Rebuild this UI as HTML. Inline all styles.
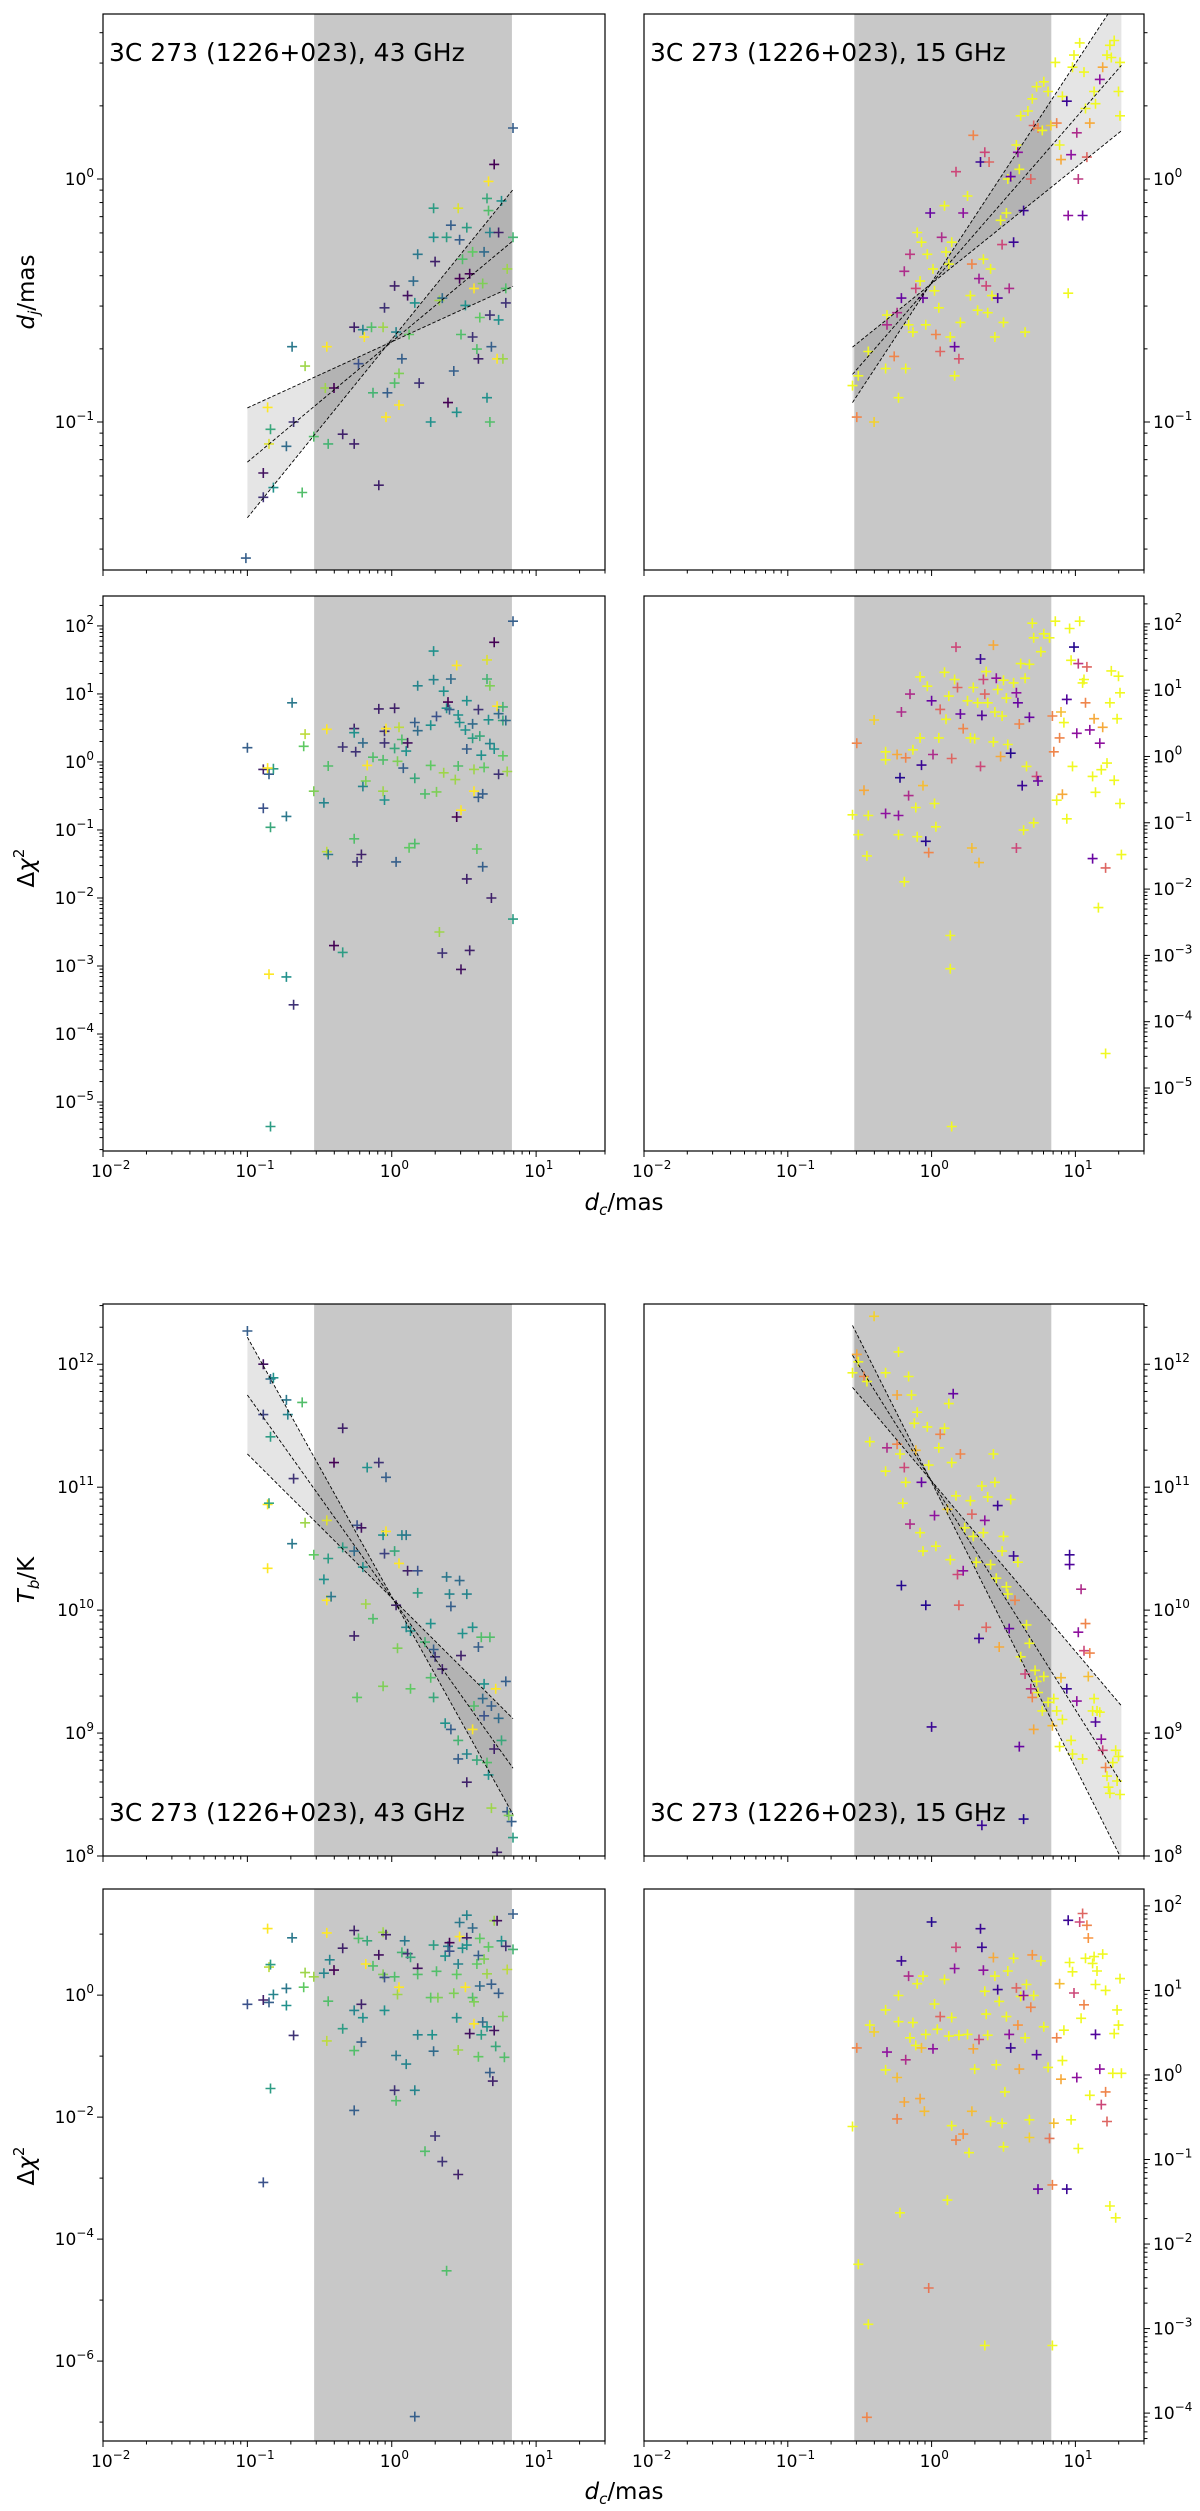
<!DOCTYPE html>
<html><head><meta charset="utf-8"><style>
html,body{margin:0;padding:0;background:#fff;}
svg{display:block;font-family:"DejaVu Sans","Liberation Sans",sans-serif;}
</style></head><body>
<svg id="fig" xmlns="http://www.w3.org/2000/svg" width="1200" height="2511" viewBox="0 0 1200 2511"></svg>
<script>
// ---------- DATA (log10 values) ----------
// Panel A: 43 GHz, d_j vs d_c
const aDcLog=[-1.01,-0.89,-0.89,-0.82,-0.84,-0.86,-0.85,-0.73,-0.68,-0.69,-0.60,-0.62,-0.54,-0.45,-0.46,-0.44,-0.40,-0.34,-0.26,-0.26,-0.23,-0.20,-0.19,-0.14,-0.13,-0.09,-0.06,-0.05,-0.04,-0.03,0.02,0.02,0.03,0.05,0.05,0.07,0.11,0.12,0.15,0.16,0.18,0.19,0.27,0.29,0.29,0.30,0.33,0.35,0.38,0.39,0.41,0.43,0.45,0.46,0.47,0.48,0.47,0.49,0.51,0.52,0.54,0.56,0.56,0.57,0.59,0.60,0.61,0.63,0.64,0.66,0.67,0.66,0.68,0.68,0.68,0.69,0.71,0.73,0.74,0.74,0.77,0.76,0.79,0.79,0.80,0.84,0.84,0.67];
const aDjLog=[-1.56,-1.21,-1.31,-1.27,-1.03,-0.94,-1.09,-1.10,-1.00,-0.69,-0.77,-1.29,-1.06,-0.69,-0.86,-1.09,-0.86,-1.05,-1.09,-0.61,-0.76,-0.62,-0.65,-0.61,-0.88,-1.26,-0.61,-0.53,-0.98,-0.88,-0.44,-0.84,-0.63,-0.93,-0.80,-0.74,-0.48,-0.64,-0.42,-0.51,-0.31,-0.84,-1.00,-0.12,-0.24,-0.34,-0.50,-0.49,-0.24,-0.92,-0.19,-0.79,-0.96,-0.12,-0.25,-0.64,-0.41,-0.33,-0.52,-0.20,-0.39,-0.30,-0.65,-0.45,-0.70,-0.74,-0.57,-0.43,-0.30,-0.90,-0.13,-0.08,-1.00,-0.22,-0.56,-0.69,0.06,-0.74,-0.22,-0.58,-0.74,-0.09,-0.51,-0.45,-0.37,-0.24,0.21,-0.01];
const aEpoch=[.3,.05,.15,.5,.6,1,.95,.35,.15,.4,.85,.7,.7,1,.85,.65,0,.1,.1,.1,.25,.45,1,.7,.65,.1,.85,.15,1,.3,.1,.7,.45,1,.8,.3,.05,.75,.35,.5,.4,.15,.5,.55,.5,.1,.85,.35,.55,0,.3,.3,.5,.95,.3,.7,0,.7,.5,.55,0,.75,.15,1,.7,.1,.75,.8,.35,.5,.7,.6,.7,.45,.15,.3,0,1,.1,.5,.85,.5,.15,.7,.85,.65,.3,1];
const aFitSlope=[0.734,0.495,0.272];
const aFitIntercept=[-0.66,-0.67,-0.67];
const aFitRange=[-1.0,0.84];

// Panel B: 43 GHz, delta chi^2 vs d_c
const bDcLog=[-1.0,-0.89,-0.85,-0.82,-0.86,-0.89,-0.73,-0.84,-0.69,-0.61,-0.60,-0.54,-0.47,-0.45,-0.44,-0.45,-0.44,-0.34,-0.26,-0.26,-0.25,-0.20,-0.20,-0.26,-0.24,-0.21,-0.17,-0.18,-0.13,-0.09,-0.06,-0.05,-0.05,-0.04,-0.05,-0.06,0.02,0.02,0.03,0.04,0.05,0.07,0.08,0.10,0.11,0.12,0.16,0.16,0.18,0.18,0.16,0.23,0.27,0.27,0.29,0.29,0.31,0.31,0.33,0.36,0.35,0.36,0.38,0.39,0.40,0.41,0.44,0.45,0.45,0.46,0.46,0.47,0.48,0.48,0.51,0.52,0.52,0.52,0.54,0.56,0.56,0.57,0.57,0.59,0.60,0.60,0.61,0.62,0.63,0.63,0.64,0.66,0.66,0.67,0.68,0.68,0.69,0.71,0.71,0.74,0.73,0.74,0.77,0.77,0.77,0.80,0.79,0.84,0.84,-0.68,-0.73,-0.85,-0.84,-0.40,-0.34];
const bChiLog=[0.21,-0.11,-0.18,-0.10,-0.09,-0.68,-0.80,-0.96,0.87,0.23,0.41,-0.43,-0.60,0.48,-0.06,-1.32,-1.36,0.22,0.49,0.43,0.15,0.28,-0.36,-1.13,-1.47,-1.36,-0.05,-0.28,0.07,0.78,0.03,0.45,0.28,0.49,-0.56,-0.43,0.79,0.20,-1.47,0.01,0.51,0.33,-0.09,0.16,0.28,-1.26,0.58,-0.24,1.12,0.46,-1.20,-0.47,-0.05,0.54,1.63,1.21,0.67,-0.44,-2.50,1.04,-2.81,-0.16,0.79,0.88,0.77,1.22,-0.26,1.42,-0.81,-0.06,0.69,0.58,-0.71,-3.05,0.47,0.19,0.90,-1.72,-2.77,0.56,0.35,-0.43,-0.11,-1.28,0.77,-0.52,0.38,0.10,-1.54,-0.47,-0.08,1.50,1.22,0.62,1.12,0.27,-2.0,0.19,1.76,-0.18,0.82,0.71,0.61,0.09,0.81,-0.14,0.61,-2.31,2.07,-3.57,-3.16,-3.12,-5.36,-2.70,-2.80];
const bEpoch=[.3,.1,.3,.55,1,.25,.4,.6,.4,.75,.9,.8,.45,1,.7,.9,.4,.15,.1,.5,.15,.35,.45,.7,.15,.1,1,.8,.7,.1,.7,.15,.15,1,.5,.85,.1,.6,.3,.8,.9,.7,.3,.5,.05,.75,.3,.6,.45,.35,.7,.7,.75,.5,.5,.45,.25,.8,.85,.5,.15,.85,.5,0,.3,.35,.85,1,0,.7,.5,.5,1,.05,.5,.3,.5,.1,.1,.35,.55,1,.85,.75,.15,.3,.6,.5,.3,.3,.75,.95,.65,.5,.8,.45,.1,.5,0,.15,1,.35,.6,.75,.65,.85,.35,.55,.3,.15,.5,1,.55,0,.55];

// Panel C: 15 GHz, d_j vs d_c
const cDcLog=[-0.55,-0.52,-0.51,-0.44,-0.40,-0.32,-0.31,-0.31,-0.26,-0.24,-0.23,-0.21,-0.19,-0.18,-0.16,-0.15,-0.13,-0.11,-0.10,-0.08,-0.07,-0.06,-0.04,-0.03,-0.01,0.01,0.02,0.03,0.05,0.06,0.07,0.09,0.10,0.12,0.13,0.14,0.16,0.16,0.17,0.19,0.20,0.22,0.25,0.27,0.28,0.29,0.32,0.33,0.34,0.36,0.37,0.38,0.39,0.40,0.41,0.42,0.44,0.46,0.48,0.49,0.50,0.52,0.53,0.54,0.55,0.57,0.59,0.60,0.61,0.62,0.64,0.65,0.67,0.69,0.70,0.71,0.73,0.74,0.77,0.78,0.81,0.83,0.86,0.87,0.89,0.90,0.91,0.94,0.95,0.95,0.97,0.98,0.99,1.01,1.02,1.03,1.05,1.06,1.07,1.08,1.10,1.13,1.14,1.17,1.19,1.22,1.24,1.25,1.27,1.30,1.31,1.31];
const cDjLog=[-0.85,-0.98,-0.81,-0.71,-1.00,-0.78,-0.56,-0.60,-0.73,-0.55,-0.90,-0.49,-0.38,-0.78,-0.60,-0.31,-0.63,-0.45,-0.22,-0.42,-0.26,-0.49,-0.60,-0.31,-0.14,-0.37,-0.46,-0.64,-0.53,-0.71,-0.24,-0.11,-0.30,-0.35,-0.65,-0.26,-0.69,-0.81,0.03,-0.74,-0.59,-0.14,-0.07,-0.48,-0.35,0.18,-0.54,-0.41,0.07,-0.33,0.11,-0.44,-0.55,0.07,-0.37,-0.48,-0.65,-0.49,-0.17,-0.27,-0.59,-0.14,0.0,-0.45,0.01,-0.26,0.14,0.11,0.04,0.26,-0.13,-0.63,0.28,0.0,0.33,0.22,0.38,0.21,0.20,0.40,0.36,0.22,0.48,0.23,0.14,0.08,0.34,0.32,-0.15,-0.47,0.10,0.46,0.51,0.19,0.0,0.56,-0.15,0.44,0.29,0.09,0.23,0.36,0.31,0.41,0.46,0.51,0.55,0.50,0.57,0.36,0.26,0.48];
const cEpoch=[1,.7,1,1,.9,1,1,.4,.7,.4,1,.2,.4,1,1,.45,1,.5,1,1,1,.2,1,1,.2,1,1,.7,1,.6,.4,1,1,1,1,1,.2,1,.5,.55,1,.3,1,1,.7,.7,1,.35,.1,1,.5,.5,1,.6,1,1,1,.15,1,.5,1,1,1,.4,.2,.1,1,.3,1,1,.1,1,1,.6,1,.6,1,.7,1,1,1,.9,1,.7,1,.8,1,.1,.3,1,.3,1,1,.4,.45,1,.2,1,1,.6,.8,1,1,.3,.8,1,1,1,1,1,1,1];
const cFitSlope=[0.90,0.68,0.476];
const cFitIntercept=[-0.425,-0.43,-0.43];
const cFitRange=[-0.55,1.32];

// Panel D: 15 GHz, delta chi^2 vs d_c
const dDcLog=[-0.55,-0.52,-0.51,-0.47,-0.45,-0.44,-0.40,-0.32,-0.32,-0.32,-0.24,-0.23,-0.23,-0.22,-0.21,-0.19,-0.18,-0.16,-0.15,-0.13,-0.11,-0.10,-0.08,-0.08,-0.07,-0.06,-0.04,-0.03,-0.02,0.0,0.01,0.02,0.03,0.05,0.06,0.09,0.10,0.12,0.13,0.13,0.14,0.14,0.16,0.17,0.18,0.20,0.22,0.25,0.27,0.28,0.29,0.30,0.32,0.33,0.34,0.34,0.35,0.36,0.37,0.38,0.39,0.43,0.43,0.44,0.45,0.46,0.48,0.49,0.50,0.52,0.53,0.55,0.57,0.59,0.59,0.60,0.61,0.62,0.63,0.64,0.65,0.66,0.68,0.68,0.70,0.71,0.71,0.73,0.74,0.76,0.78,0.82,0.84,0.85,0.86,0.87,0.89,0.90,0.91,0.92,0.94,0.94,0.96,0.97,0.98,0.99,1.01,1.02,1.03,1.05,1.06,1.07,1.08,1.10,1.12,1.12,1.13,1.14,1.16,1.17,1.18,1.19,1.21,1.21,1.22,1.24,1.25,1.27,1.29,1.30,1.31,1.31,1.32];
const dChiLog=[-0.88,0.20,-1.18,-0.51,-1.50,-0.89,0.55,0.07,-0.86,-0.05,0.03,-0.89,-1.18,-0.32,0.67,-1.89,-0.02,-0.59,0.94,0.10,-0.77,-1.21,1.20,0.28,-0.13,-0.44,-1.28,1.06,-1.45,0.84,0.03,-0.71,-1.06,0.28,0.71,1.27,0.56,0.91,-2.70,-3.20,-5.58,-0.03,1.16,1.65,1.04,0.64,0.42,0.84,0.28,-1.38,1.04,0.27,0.81,-1.60,1.47,-0.15,0.62,1.16,0.94,1.28,0.81,1.68,0.22,0.67,1.18,1.01,0.0,0.61,1.15,0.88,0.18,0.05,1.11,0.96,-1.38,0.81,0.49,1.40,-0.44,-1.11,1.18,-0.15,0.59,1.39,2.01,1.79,-1.0,-0.30,-0.37,1.58,1.85,1.79,0.61,0.07,2.04,-0.66,0.28,0.67,-0.57,0.51,-0.94,0.86,1.93,1.45,-0.15,1.65,0.35,1.40,2.04,1.11,1.16,0.81,1.35,0.40,-0.30,-1.54,0.57,-0.54,-2.28,0.20,-0.20,0.44,-1.68,-4.48,-0.10,0.81,1.29,-0.36,0.57,1.21,0.96,-0.71,-1.48];
const dEpoch=[1,.7,1,.8,1,1,.9,1,.3,1,.8,.3,1,.05,.4,1,.7,.4,.4,1,1,1,1,1,.1,.85,.05,1,.7,.2,.4,1,1,1,.6,1,1,1,1,1,1,.6,1,.5,.6,.2,.7,1,1,.85,1,1,1,.85,.1,.5,.15,.5,.6,1,1,.8,1,1,.3,1,.8,1,1,1,1,.05,1,.3,.5,.2,.7,1,.1,1,1,1,.2,1,1,1,1,.5,.2,1,1,1,.7,.7,1,1,.7,.85,.8,1,1,.15,1,1,1,.05,.3,.45,1,1,1,.7,.6,.3,1,.2,.8,1,1,.3,1,.8,.6,1,1,1,1,1,1,1,1,1,1];

// Panel E: 43 GHz, Tb vs d_c
const eDcLog=[-1.0,-0.89,-0.89,-0.84,-0.82,-0.84,-0.86,-0.85,-0.86,-0.73,-0.72,-0.69,-0.68,-0.62,-0.60,-0.54,-0.47,-0.45,-0.45,-0.44,-0.42,-0.40,-0.34,-0.34,-0.26,-0.26,-0.24,-0.24,-0.21,-0.20,-0.18,-0.17,-0.13,-0.09,-0.06,-0.05,-0.04,-0.04,-0.06,0.02,0.03,0.04,0.05,0.07,0.10,0.10,0.13,0.13,0.11,0.18,0.18,0.23,0.27,0.27,0.29,0.29,0.30,0.35,0.37,0.38,0.40,0.41,0.41,0.46,0.46,0.47,0.48,0.49,0.52,0.52,0.52,0.56,0.56,0.57,0.59,0.60,0.62,0.63,0.64,0.64,0.66,0.67,0.68,0.69,0.71,0.72,0.73,0.74,0.76,0.79,0.80,0.81,0.83,0.84,0.69];
const eTbLog=[12.27,12.0,11.59,11.88,11.89,11.41,10.86,10.87,10.34,11.71,11.59,10.54,11.07,11.69,10.71,10.45,10.25,10.08,10.73,10.42,10.11,11.20,11.48,10.51,9.79,10.48,10.69,9.29,10.67,10.35,10.05,11.16,9.93,11.20,10.61,10.46,11.08,10.64,9.38,10.48,10.04,9.69,10.38,10.61,10.61,9.86,9.83,9.36,10.32,10.32,10.14,9.74,9.89,9.45,9.68,9.29,9.62,9.52,9.08,10.27,10.13,10.03,9.03,8.94,8.79,10.24,9.63,9.81,8.60,8.83,10.13,9.86,9.03,9.22,8.78,9.70,9.78,9.28,9.14,9.40,8.76,8.66,9.78,9.22,8.87,9.36,8.03,9.12,8.94,9.42,8.36,8.33,8.28,8.15,8.39];
const eEpoch=[.3,.05,.2,.35,.5,.55,1,.6,1,.4,.45,.4,.15,.7,.85,.75,.5,1,.95,.55,.4,0,.1,.55,.1,.35,.25,.75,.05,.5,.85,.5,.7,.15,.5,.2,.3,1,.8,.6,.1,.8,1,.45,.4,.45,.5,.75,.1,.25,.55,.65,.5,.7,.3,.6,.15,.1,.5,.4,.45,.3,.3,.65,.3,.35,.1,.5,.1,.45,.45,.5,1,.7,.6,.3,.7,.35,.25,.5,.7,.5,.7,.3,.1,1,.1,.35,.6,.3,.3,.8,.3,.55,.85];
const eFitSlope=[-2.11,-1.65,-1.17];
const eFitIntercept=[10.11,10.10,10.10];
const eFitRange=[-1.0,0.84];

// Panel F: 15 GHz, Tb vs d_c
const fDcLog=[-0.55,-0.52,-0.51,-0.47,-0.45,-0.43,-0.40,-0.32,-0.32,-0.31,-0.24,-0.24,-0.23,-0.22,-0.21,-0.20,-0.19,-0.18,-0.16,-0.15,-0.14,-0.12,-0.11,-0.10,-0.08,-0.07,-0.06,-0.04,-0.03,-0.02,0.0,0.02,0.03,0.05,0.06,0.09,0.11,0.12,0.13,0.14,0.15,0.17,0.18,0.19,0.20,0.22,0.23,0.27,0.28,0.29,0.31,0.33,0.35,0.36,0.37,0.38,0.39,0.41,0.43,0.44,0.45,0.46,0.47,0.49,0.50,0.52,0.53,0.54,0.55,0.57,0.58,0.60,0.61,0.62,0.64,0.65,0.66,0.68,0.69,0.70,0.71,0.72,0.73,0.74,0.77,0.78,0.81,0.84,0.85,0.87,0.89,0.90,0.91,0.94,0.96,0.96,0.97,0.98,1.01,1.02,1.04,1.05,1.06,1.07,1.09,1.10,1.12,1.13,1.14,1.15,1.17,1.18,1.19,1.21,1.22,1.23,1.24,1.26,1.28,1.29,1.30,1.31,0.35];
const fTbLog=[11.93,12.08,12.02,11.90,11.86,11.37,12.39,11.93,11.13,11.32,11.75,11.35,12.10,11.27,10.20,10.87,11.16,11.04,11.90,10.70,11.75,11.52,11.30,11.61,10.63,11.04,10.48,10.04,11.49,11.18,9.05,10.77,10.52,11.32,11.43,11.48,10.82,11.68,10.41,11.20,11.76,10.93,10.29,10.04,11.27,10.32,10.67,10.89,10.78,10.60,10.39,9.77,11.01,10.63,10.73,9.86,10.92,10.37,11.27,11.04,10.26,10.85,9.70,10.48,10.60,10.19,10.13,9.85,10.90,10.44,10.08,10.39,8.89,9.62,8.30,9.48,9.88,9.73,9.36,9.29,9.03,9.51,9.42,9.33,9.18,9.46,9.25,9.06,9.28,9.18,8.89,9.45,9.11,9.36,10.45,10.37,8.94,8.83,9.26,9.82,10.17,8.79,9.67,9.89,9.46,9.65,9.18,9.28,9.09,9.18,9.17,8.95,8.86,8.72,8.65,8.56,8.51,8.76,8.86,8.61,8.81,8.50,8.25];
const fEpoch=[1,.8,1,.7,1,1,.9,1,1,.4,.8,.7,1,1,.05,1,.5,1,1,.4,1,1,.85,1,1,.2,1,.05,1,1,.1,.3,1,1,.7,1,.9,1,1,1,.2,1,.5,.6,.7,.3,1,1,.6,1,1,.1,1,1,.3,.6,1,1,1,1,1,.1,.8,1,1,1,1,.2,1,.1,.7,1,.2,1,.05,.5,1,1,.4,.7,.8,1,1,1,1,1,1,.85,1,1,1,.85,1,.1,.1,.15,1,1,.3,.3,.4,1,.5,.7,.85,.7,1,1,.15,1,1,.3,.5,.7,1,1,1,1,1,1,1,1,.1];
const fFitSlope=[-2.32,-1.86,-1.385];
const fFitIntercept=[11.04,11.05,11.05];
const fFitRange=[-0.55,1.32];

// Panel G: 43 GHz, delta chi^2 (Tb fit)
const gDcLog=[-1.0,-0.89,-0.86,-0.85,-0.85,-0.84,-0.82,-0.84,-0.89,-0.73,-0.73,-0.69,-0.68,-0.61,-0.60,-0.54,-0.47,-0.45,-0.45,-0.44,-0.43,-0.40,-0.34,-0.34,-0.26,-0.26,-0.26,-0.26,-0.23,-0.21,-0.20,-0.21,-0.17,-0.18,-0.13,-0.09,-0.06,-0.06,-0.05,-0.04,-0.05,0.02,0.03,0.02,0.04,0.05,0.03,0.07,0.09,0.10,0.11,0.13,0.18,0.18,0.18,0.16,0.23,0.27,0.28,0.29,0.29,0.30,0.32,0.31,0.35,0.37,0.38,0.39,0.40,0.40,0.43,0.45,0.45,0.46,0.46,0.47,0.47,0.46,0.49,0.51,0.52,0.52,0.52,0.54,0.56,0.56,0.57,0.57,0.59,0.60,0.60,0.61,0.61,0.62,0.63,0.64,0.66,0.66,0.67,0.68,0.69,0.70,0.71,0.71,0.72,0.73,0.74,0.76,0.77,0.78,0.79,0.80,0.84,0.84,0.16];
const gChiLog=[-0.15,-0.08,1.09,-0.12,0.46,0.50,0.01,-1.53,-3.07,0.11,-0.17,0.94,-0.66,0.13,0.37,0.30,0.36,1.02,-0.75,-0.10,0.58,0.41,0.77,-0.55,1.06,-0.25,-0.91,-1.89,0.93,-0.15,-0.37,-0.77,0.89,0.51,0.48,0.66,1.03,0.34,0.29,0.99,-0.25,0.30,-0.99,-1.56,0.01,0.13,-1.73,0.70,0.89,-1.13,0.68,0.62,0.44,0.34,-0.65,-1.56,-2.56,-0.04,-0.65,-0.92,0.82,-2.31,-0.04,0.39,-2.73,0.64,-4.52,0.80,0.86,0.72,0.03,0.34,-0.37,0.51,-0.90,1.19,0.96,-2.94,0.77,0.13,0.94,1.31,0.82,-0.63,1.10,-0.04,-0.47,-0.11,0.51,-1.01,0.65,0.15,0.93,-0.65,-0.44,0.59,-0.52,0.35,0.79,-1.27,0.18,-1.41,-0.58,1.22,-0.84,1.22,0.03,0.89,-0.35,-1.02,0.80,0.42,1.33,0.75,-6.91];
const gEpoch=[.25,.1,1,.3,.9,.55,.45,.55,.25,.4,.5,.4,.15,.75,.85,.85,.45,1,.9,.7,.45,0,.1,.55,.1,.45,.7,.3,.7,.1,.5,.3,.6,1,.7,.05,.85,.8,.25,.1,.5,.7,.4,.15,.85,1,.7,.65,.4,.45,.15,.6,.05,.7,.45,.45,.7,.75,.5,.35,.55,.15,.8,.7,.15,.5,.7,.4,0,.25,.8,.75,.5,.45,.85,.4,1,.1,.5,1,.1,.45,.5,.05,.35,.7,1,.8,.75,.75,.3,.35,.75,.55,.35,.8,.5,.85,.75,.3,.3,.1,.05,.85,.6,.05,.3,.5,.8,.7,.15,.9,.3,.65,.3];

// Panel H: 15 GHz, delta chi^2 (Tb fit)
const hDcLog=[-0.55,-0.52,-0.51,-0.45,-0.44,-0.43,-0.40,-0.32,-0.32,-0.31,-0.24,-0.24,-0.23,-0.23,-0.22,-0.21,-0.19,-0.18,-0.16,-0.15,-0.13,-0.11,-0.10,-0.08,-0.07,-0.06,-0.05,-0.04,-0.02,0.0,0.01,0.02,0.04,0.06,0.09,0.11,0.12,0.14,0.14,0.16,0.17,0.17,0.19,0.22,0.25,0.26,0.28,0.29,0.30,0.33,0.34,0.35,0.36,0.37,0.38,0.39,0.37,0.41,0.43,0.44,0.45,0.46,0.47,0.49,0.50,0.51,0.52,0.53,0.54,0.55,0.57,0.59,0.60,0.61,0.62,0.64,0.65,0.66,0.68,0.68,0.69,0.70,0.71,0.73,0.74,0.76,0.78,0.81,0.82,0.84,0.84,0.85,0.87,0.89,0.90,0.91,0.92,0.94,0.95,0.96,0.97,0.98,0.99,1.01,1.02,1.03,1.04,1.05,1.06,1.07,1.08,1.09,1.10,1.12,1.13,1.14,1.14,1.15,1.17,1.18,1.19,1.21,1.21,1.22,1.24,1.26,1.27,1.28,1.29,1.30,1.31,1.32];
const hChiLog=[-0.61,0.32,-2.24,-4.05,-2.95,0.59,0.51,0.06,0.77,0.27,-0.03,-0.52,0.63,0.94,-1.63,1.35,-0.32,0.18,1.17,0.44,0.62,0.35,1.08,-0.28,0.32,1.17,-0.43,0.48,-2.52,1.81,0.31,0.84,0.54,0.69,1.13,-1.48,0.46,0.68,-0.60,1.26,1.51,-0.77,0.47,-0.70,0.48,-0.92,-0.43,0.31,0.07,0.42,1.73,1.51,1.24,0.99,0.72,0.47,-3.20,-0.55,1.39,1.17,0.12,1.01,0.87,-0.57,-0.85,-0.20,0.69,1.23,0.48,0.32,1.38,1.03,0.59,0.07,0.93,0.94,0.44,1.07,-0.53,-0.74,0.80,1.42,0.94,0.24,-1.35,1.35,0.57,0.09,-0.75,-1.30,-3.20,-0.57,0.44,1.08,-0.05,0.17,0.53,-1.35,1.83,1.33,-0.53,1.22,0.97,-0.03,-0.87,1.81,0.67,1.91,0.83,1.38,1.77,1.62,-0.24,1.32,1.40,1.07,0.48,1.23,0.07,-0.35,1.43,1.00,-0.20,-0.55,-1.55,0.02,0.49,-1.69,0.77,0.59,1.14,0.02];
const hEpoch=[1,.7,1,.7,1,1,.9,1,1,.3,.85,.7,1,1,1,.1,.8,.4,.4,1,1,1,1,.8,.85,1,.85,1,.65,.05,.3,1,1,.6,1,1,1,1,1,.3,.5,.7,1,.75,1,1,.85,.8,1,.5,.1,.1,.3,1,1,1,1,1,.8,1,1,.1,1,1,1,1,1,1,.3,.1,1,.6,.75,.8,1,.3,1,1,1,.9,.7,.75,1,.15,.2,1,1,1,.65,.7,1,.85,.7,.85,.8,1,1,.1,.1,1,1,1,.5,.3,1,.5,1,.6,.7,1,.7,.75,1,1,1,1,.15,1,.3,.5,1,1,.7,.6,1,1,1,1,1,1,1,1];

// ---------- RENDERING ----------
const svg=document.getElementById('fig');
const NS='http://www.w3.org/2000/svg';
function el(tag,attrs,parent){const e=document.createElementNS(NS,tag);for(const k in attrs)e.setAttribute(k,attrs[k]);(parent||svg).appendChild(e);return e;}
const VIR=[[68,1,84],[59,82,139],[33,145,140],[94,201,98],[253,231,37]];
const PLA=[[13,8,135],[126,3,168],[204,71,120],[248,149,64],[240,249,33]];
function cmap(tab,t){t=Math.max(0,Math.min(1,t));const s=t*(tab.length-1);const i=Math.min(tab.length-2,Math.floor(s));const f=s-i;const a=tab[i],b=tab[i+1];return 'rgb('+a.map((v,k)=>Math.round(v+(b[k]-v)*f)).join(',')+')';}
const XMIN=-2,XMAX=Math.log10(30);
const SPAN=[Math.log10(0.29),Math.log10(6.8)];
let clipId=0;

function makePanel(p){
  const g=el('g',{});
  
  
  const sx=v=>p.x0+(v-XMIN)/(XMAX-XMIN)*(p.x1-p.x0);
  const sy=v=>p.y1-(v-p.ymin)/(p.ymax-p.ymin)*(p.y1-p.y0);
  const cid='clip'+(clipId++);
  const cp=el('clipPath',{id:cid},g);
  el('rect',{x:p.x0,y:p.y0,width:p.x1-p.x0,height:p.y1-p.y0},cp);
  const plot=el('g',{'clip-path':'url(#'+cid+')'},g);
  
  
  const span=el('rect',{x:sx(SPAN[0]),y:p.y0,width:sx(SPAN[1])-sx(SPAN[0]),height:p.y1-p.y0,fill:'#c8c8c8'},plot);
  
  
  if(p.fitS){
    const xa=p.fitR[0],xb=p.fitR[1];
    const ys=x=>p.fitS.map((s,i)=>p.fitI[i]+s*x);
    const N=20;let top=[],bot=[];
    for(let k=0;k<=N;k++){const x=xa+(xb-xa)*k/N;const v=ys(x);top.push([x,Math.max(...v)]);bot.push([x,Math.min(...v)]);}
    const pts=top.concat(bot.reverse()).map(q=>sx(q[0]).toFixed(1)+','+sy(q[1]).toFixed(1)).join(' ');
    const band=el('polygon',{points:pts,fill:'rgba(0,0,0,0.1)'},plot);
    
    
  }
  const mk=el('g',{'stroke-width':1.6},plot);
  
  
  const r=5;
  for(let i=0;i<p.X.length;i++){
    const cx=sx(p.X[i]),cy=sy(p.Y[i]);
    const m=el('path',{d:`M${(cx-r).toFixed(1)} ${cy.toFixed(1)}h${2*r}M${cx.toFixed(1)} ${(cy-r).toFixed(1)}v${2*r}`,stroke:cmap(p.cm,p.C[i])},mk);
    
    
  }
  if(p.fitS){
    for(let i=0;i<p.fitS.length;i++){
      const xa=p.fitR[0],xb=p.fitR[1];
      const ln=el('line',{x1:sx(xa),y1:sy(p.fitI[i]+p.fitS[i]*xa),x2:sx(xb),y2:sy(p.fitI[i]+p.fitS[i]*xb),stroke:'#000','stroke-width':0.9,'stroke-dasharray':'3.5,2'},plot);
      
      
    }
  }
  const fr=el('rect',{x:p.x0,y:p.y0,width:p.x1-p.x0,height:p.y1-p.y0,fill:'none',stroke:'#000','stroke-width':1.2},g);
  
  
  // x ticks
  const xt=el('g',{stroke:'#000','stroke-width':1},g);
  
  
  for(let d=-2;d<=1;d++){
    el('line',{x1:sx(d),x2:sx(d),y1:p.y1,y2:p.y1+6},xt);
    if(p.xlabels){
      const t=el('text',{x:sx(d)-12,y:p.y1+26,'font-size':17,fill:'#000',stroke:'none'},g);
      
      
      t.textContent='10';
      const s=el('tspan',{dy:-8,'font-size':12},t);s.textContent=(d<0?'\u2212':'')+Math.abs(d);
    }
    for(let k=2;k<=9;k++){const v=d+Math.log10(k);if(v<=XMAX)el('line',{x1:sx(v),x2:sx(v),y1:p.y1,y2:p.y1+3.5},xt);}
  }
  // y ticks
  const yt=el('g',{stroke:'#000','stroke-width':1},g);
  
  
  const left=p.side==='left';const ax=left?p.x0:p.x1;const dir=left?-1:1;
  for(let d=Math.floor(p.ymin)-1;d<=Math.ceil(p.ymax);d++){
    if(d>=p.ymin&&d<=p.ymax){
      const labelled=((d%p.step)+p.step)%p.step===0;
      el('line',{x1:ax,x2:ax+dir*(labelled?6:3.5),y1:sy(d),y2:sy(d)},yt);
      if(labelled){
        const es=(d<0?'\u2212':'')+Math.abs(d);
        const t=el('text',{x:left?ax-9:ax+9,y:sy(d)+6,'font-size':17,fill:'#000','text-anchor':left?'end':'start',stroke:'none'},g);
        
        
        t.textContent='10';
        const s=el('tspan',{dy:-8,'font-size':12},t);s.textContent=es;
      }
    }
    if(p.minor){for(let k=2;k<=9;k++){const v=d+Math.log10(k);if(v>p.ymin&&v<p.ymax)el('line',{x1:ax,x2:ax+dir*3.5,y1:sy(v),y2:sy(v)},yt);}}
  }
  if(p.title){
    const t=el('text',{x:p.x0+6,y:p.titleY,'font-size':25,fill:'#000'},g);
    
    
    t.textContent=p.title;
  }
}
const L={x0:103,x1:605,side:'left',cm:VIR},R={x0:644,x1:1144,side:'right',cm:PLA};
makePanel(Object.assign({},L,{name:'dj-panel-43ghz',y0:14,y1:570,ymin:-1.609,ymax:0.679,step:1,minor:true,X:aDcLog,Y:aDjLog,C:aEpoch,fitS:aFitSlope,fitI:aFitIntercept,fitR:aFitRange,title:'3C 273 (1226+023), 43 GHz',titleY:61}));
makePanel(Object.assign({},R,{name:'dj-panel-15ghz',y0:14,y1:570,ymin:-1.609,ymax:0.679,step:1,minor:true,X:cDcLog,Y:cDjLog,C:cEpoch,fitS:cFitSlope,fitI:cFitIntercept,fitR:cFitRange,title:'3C 273 (1226+023), 15 GHz',titleY:61}));
makePanel(Object.assign({},L,{name:'chi2-dj-panel-43ghz',y0:596,y1:1151,ymin:-5.72,ymax:2.44,step:1,minor:true,xlabels:true,X:bDcLog,Y:bChiLog,C:bEpoch}));
makePanel(Object.assign({},R,{name:'chi2-dj-panel-15ghz',y0:596,y1:1151,ymin:-5.95,ymax:2.42,step:1,minor:true,xlabels:true,X:dDcLog,Y:dChiLog,C:dEpoch}));
makePanel(Object.assign({},L,{name:'tb-panel-43ghz',y0:1304,y1:1856,ymin:8,ymax:12.49,step:1,minor:true,X:eDcLog,Y:eTbLog,C:eEpoch,fitS:eFitSlope,fitI:eFitIntercept,fitR:eFitRange,title:'3C 273 (1226+023), 43 GHz',titleY:1821}));
makePanel(Object.assign({},R,{name:'tb-panel-15ghz',y0:1304,y1:1856,ymin:8,ymax:12.49,step:1,minor:true,X:fDcLog,Y:fTbLog,C:fEpoch,fitS:fFitSlope,fitI:fFitIntercept,fitR:fFitRange,title:'3C 273 (1226+023), 15 GHz',titleY:1821}));
makePanel(Object.assign({},L,{name:'chi2-tb-panel-43ghz',y0:1889,y1:2441,ymin:-7.31,ymax:1.74,step:2,minor:false,xlabels:true,X:gDcLog,Y:gChiLog,C:gEpoch}));
makePanel(Object.assign({},R,{name:'chi2-tb-panel-15ghz',y0:1889,y1:2441,ymin:-4.33,ymax:2.2,step:1,minor:true,xlabels:true,X:hDcLog,Y:hChiLog,C:hEpoch}));

function axisLabel(name,x,y,rot,html){
  const t=el('text',{x:x,y:y,'font-size':23,'text-anchor':'middle',fill:'#000'});
  if(rot)t.setAttribute('transform',`rotate(-90 ${x} ${y})`);
  
  
  t.innerHTML=html;
}
axisLabel('y-axis-title-dj',34,292,true,'<tspan font-style="italic">d</tspan><tspan font-size="15" dy="5" font-style="italic">j</tspan><tspan dy="-5">/mas</tspan>');
axisLabel('y-axis-title-chi2-top',34,868,true,'\u0394<tspan font-style="italic">\u03c7</tspan><tspan font-size="15" dy="-10">2</tspan>');
axisLabel('y-axis-title-tb',34,1580,true,'<tspan font-style="italic">T</tspan><tspan font-size="15" dy="5" font-style="italic">b</tspan><tspan dy="-5">/K</tspan>');
axisLabel('y-axis-title-chi2-bottom',34,2166,true,'\u0394<tspan font-style="italic">\u03c7</tspan><tspan font-size="15" dy="-10">2</tspan>');
axisLabel('x-axis-title-top',624,1210,false,'<tspan font-style="italic">d</tspan><tspan font-size="15" dy="5" font-style="italic">c</tspan><tspan dy="-5">/mas</tspan>');
axisLabel('x-axis-title-bottom',624,2499,false,'<tspan font-style="italic">d</tspan><tspan font-size="15" dy="5" font-style="italic">c</tspan><tspan dy="-5">/mas</tspan>');
</script>
</body></html>
